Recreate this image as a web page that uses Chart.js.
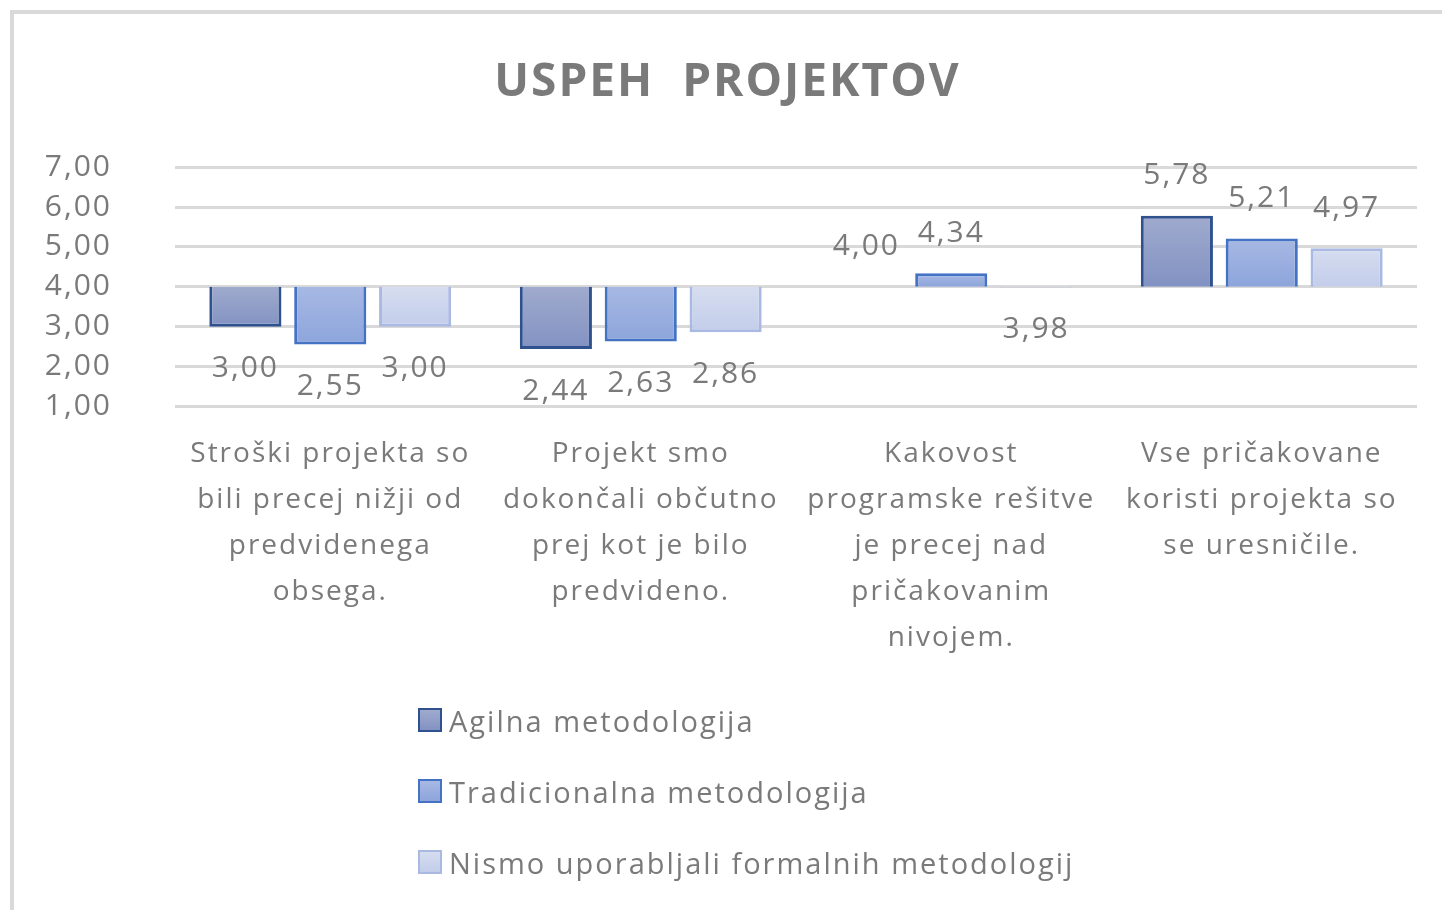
<!DOCTYPE html>
<html>
<head>
<meta charset="utf-8">
<script src="https://cdn.jsdelivr.net/npm/chart.js@4/dist/chart.umd.min.js"></script>
<style>
  html, body { margin: 0; padding: 0; background: #fff; overflow: hidden; }
  body { width: 1442px; height: 910px; position: relative; }
  #frame { position: absolute; left: 10px; top: 10px; width: 1500px; height: 1000px; border: 4px solid #d9d9d9; box-sizing: border-box; }
  #wrap { position: absolute; left: 0; top: 0; width: 1472px; height: 910px; }
  #legend { position: absolute; left: 418px; top: 702px; font-family: "Open Sans", sans-serif; font-size: 29px; letter-spacing: 2px; color: #7a7a7a; }
  .leg-item { display: flex; align-items: center; height: 36px; margin-bottom: 35px; white-space: nowrap; }
  .leg-box { width: 24px; height: 24px; box-sizing: border-box; border: 2px solid; margin-right: 7px; }
</style>
</head>
<body>
<div id="frame"></div>
<div id="wrap"><canvas id="chart"></canvas></div>
<div id="legend"></div>
<script>
const categories = [
    ["Stroški projekta so", "bili precej nižji od", "predvidenega", "obsega."],
    ["Projekt smo", "dokončali občutno", "prej kot je bilo", "predvideno."],
    ["Kakovost", "programske rešitve", "je precej nad", "pričakovanim", "nivojem."],
    ["Vse pričakovane", "koristi projekta so", "se uresničile."]
];
const seriesNames = ["Agilna metodologija", "Tradicionalna metodologija", "Nismo uporabljali formalnih metodologij"];
const agilna = [3.00, 2.44, 4.00, 5.78];
const tradicionalna = [2.55, 2.63, 4.34, 5.21];
const nismo = [3.00, 2.86, 3.98, 4.97];
const baseline = 4;
const yTickLabels = ["1,00", "2,00", "3,00", "4,00", "5,00", "6,00", "7,00"];

const fills = [["#9faacd", "#8292c2"], ["#a7b8e3", "#8da5dc"], ["#d6ddf0", "#c3cdea"]];
const borders = ["#2f528f", "#4472c4", "#a9b9e2"];
const textColor = "#7a7a7a";
const fontFamily = "'Open Sans', sans-serif";

const ctx = document.getElementById("chart").getContext("2d");

function barFill(si) {
    return function(context) {
        const chart = context.chart;
        const y = chart.scales.y;
        const v = context.raw ? context.raw[1] : baseline;
        if (!y || v === undefined) return fills[si][0];
        const a = y.getPixelForValue(Math.max(v, baseline));
        const b = y.getPixelForValue(Math.min(v, baseline));
        if (!isFinite(a) || !isFinite(b) || a === b) return fills[si][0];
        const g = chart.ctx.createLinearGradient(0, a, 0, b);
        g.addColorStop(0, fills[si][0]);
        g.addColorStop(1, fills[si][1]);
        return g;
    };
}

function makeDataset(label, values, si) {
    return {
        label: label,
        data: values.map(v => [baseline, v]),
        values: values,
        backgroundColor: barFill(si),
        borderColor: borders[si],
        borderWidth: 3,
        borderSkipped: context => (context.raw && context.raw[1] < baseline) ? 'top' : 'bottom',
        categoryPercentage: 0.82,
        barPercentage: 0.85
    };
}

// razmik med črkami kot v Excelu
const spacing = {
    id: 'spacing',
    beforeUpdate(chart) { chart.ctx.letterSpacing = '2px'; },
    beforeDraw(chart) { chart.ctx.letterSpacing = '2px'; }
};

// vrednosti nad stolpci (kot v Excelu)
const valueLabels = {
    id: 'valueLabels',
    afterDatasetsDraw(chart) {
        const c = chart.ctx;
        const y = chart.scales.y;
        c.save();
        c.font = "30px " + fontFamily;
        c.fillStyle = textColor;
        c.textAlign = 'center';
        c.textBaseline = 'middle';
        chart.data.datasets.forEach((ds, i) => {
            const meta = chart.getDatasetMeta(i);
            meta.data.forEach((bar, j) => {
                const v = ds.values[j];
                const py = y.getPixelForValue(v);
                const off = v >= baseline ? -40 : 42;
                c.fillText(v.toFixed(2).replace('.', ','), bar.x, py + off);
            });
        });
        c.restore();
    }
};

// legenda v stolpcu pod grafom
const htmlLegend = {
    id: 'htmlLegend',
    afterUpdate(chart) {
        const box = document.getElementById('legend');
        box.innerHTML = '';
        chart.data.datasets.forEach((ds, i) => {
            const item = document.createElement('div');
            item.className = 'leg-item';
            const sw = document.createElement('span');
            sw.className = 'leg-box';
            sw.style.borderColor = borders[i];
            sw.style.background = `linear-gradient(${fills[i][0]}, ${fills[i][1]})`;
            const t = document.createElement('span');
            t.textContent = ds.label;
            item.appendChild(sw);
            item.appendChild(t);
            box.appendChild(item);
        });
    }
};

const chart = new Chart(ctx, {
    type: 'bar',
    data: {
        labels: categories,
        datasets: [
            makeDataset(seriesNames[0], agilna, 0),
            makeDataset(seriesNames[1], tradicionalna, 1),
            makeDataset(seriesNames[2], nismo, 2)
        ]
    },
    options: {
        responsive: true,
        maintainAspectRatio: false,
        animation: false,
        layout: { padding: { left: 38, right: 55, top: 0, bottom: 232 } },
        plugins: {
            legend: { display: false },
            tooltip: { enabled: false },
            title: {
                display: true,
                text: "USPEH  PROJEKTOV",
                color: textColor,
                font: { family: fontFamily, size: 46, weight: 'bold' },
                padding: { top: 55, bottom: 57 }
            }
        },
        scales: {
            x: {
                grid: { display: false },
                border: { display: false },
                ticks: {
                    color: textColor,
                    font: { family: fontFamily, size: 28, lineHeight: 1.64 },
                    padding: 17,
                    maxRotation: 0,
                    autoSkip: false
                }
            },
            y: {
                min: 1,
                max: 7,
                afterFit(scale) { scale.width = 137; },
                grid: { color: "#d9d9d9", lineWidth: 3, drawTicks: false },
                border: { display: false },
                ticks: {
                    stepSize: 1,
                    autoSkip: false,
                    color: textColor,
                    font: { family: fontFamily, size: 30 },
                    padding: 63,
                    callback: (value, index) => yTickLabels[index]
                }
            }
        }
    },
    plugins: [spacing, valueLabels, htmlLegend]
});
</script>
</body>
</html>
